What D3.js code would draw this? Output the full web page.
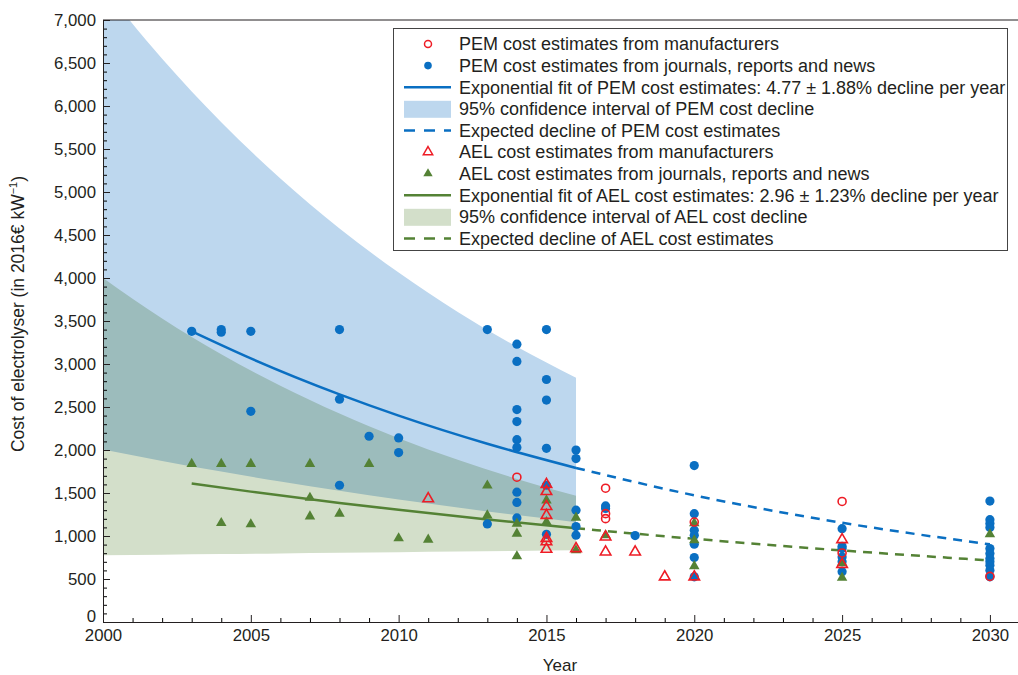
<!DOCTYPE html>
<html>
<head>
<meta charset="utf-8">
<script src="https://cdn.jsdelivr.net/npm/d3@7"></script>
<style>
  body { margin: 0; background: #fff; }
  text { font-family: "Liberation Sans", Arial, Helvetica, sans-serif; fill: #231f20; }
</style>
</head>
<body>
<svg id="chart" width="1018" height="675"></svg>
<script>
// cost estimates, [year, 2016 EUR per kW]
const pemManufacturers = [
  [2014, 1684], [2017, 1556], [2017, 1260], [2017, 1202], [2020, 1162],
  [2025, 1402], [2025, 803], [2030, 530]
];
const pemJournals = [
  [2003, 3380], [2004, 3400], [2004, 3370], [2005, 3380], [2005, 2450],
  [2008, 3400], [2008, 2590], [2008, 1590], [2009, 2160], [2010, 2140], [2010, 1970],
  [2013, 3400], [2013, 1140],
  [2014, 3230], [2014, 3030], [2014, 2470], [2014, 2330], [2014, 2120], [2014, 2030],
  [2014, 1510], [2014, 1390], [2014, 1210],
  [2015, 3400], [2015, 2820], [2015, 2580], [2015, 2020], [2015, 1590], [2015, 1020],
  [2016, 2000], [2016, 1900], [2016, 1300], [2016, 1110], [2016, 1010],
  [2017, 1350], [2017, 1320], [2018, 1005],
  [2020, 1819], [2020, 1260], [2020, 1066], [2020, 1008], [2020, 904], [2020, 750], [2020, 525],
  [2025, 1085], [2025, 880], [2025, 854], [2025, 757], [2025, 700], [2025, 583],
  [2030, 1406], [2030, 1190], [2030, 1144], [2030, 1100], [2030, 854], [2030, 796],
  [2030, 738], [2030, 700], [2030, 660], [2030, 603], [2030, 525]
];
const aelManufacturers = [
  [2011, 1433],
  [2015, 1599], [2015, 1518], [2015, 1344], [2015, 1240], [2015, 973], [2015, 934], [2015, 846],
  [2016, 854], [2017, 988], [2017, 815], [2018, 815], [2019, 525], [2020, 525],
  [2025, 958], [2025, 670]
];
const aelJournals = [
  [2003, 1839], [2004, 1839], [2004, 1151], [2005, 1839], [2005, 1136],
  [2007, 1839], [2007, 1445], [2007, 1228], [2008, 1260], [2009, 1839],
  [2010, 973], [2011, 958], [2013, 1587], [2013, 1240],
  [2014, 1144], [2014, 1028], [2014, 765], [2015, 1414], [2015, 1162],
  [2016, 1213], [2016, 834], [2017, 1008],
  [2020, 1150], [2020, 950], [2020, 649], [2025, 687], [2025, 515],
  [2030, 1020]
];

// fitted curves and expected declines
const pemFitYears = [2003, 2005, 2008, 2010, 2013, 2016];
const pemFitValues = [3380, 3065, 2647, 2400, 2073, 1791];
const pemExpectedYears = [2016, 2020, 2025, 2030];
const pemExpectedValues = [1791, 1473, 1154, 903];
const aelFitYears = [2003, 2005, 2008, 2010, 2013, 2016];
const aelFitValues = [1610, 1516, 1385, 1304, 1193, 1090];
const aelExpectedYears = [2016, 2020, 2025, 2030];
const aelExpectedValues = [1090, 967, 832, 716];

// 95% confidence intervals
const bandYears = [2000, 2002, 2004, 2006, 2008, 2010, 2012, 2014, 2016];
const pemUpper = [7380, 6549, 5812, 5158, 4577, 4063, 3606, 3200, 2840];
const pemLower = [2005, 1873, 1749, 1634, 1526, 1425, 1331, 1243, 1161];
const aelUpper = [4000, 3529, 3113, 2747, 2423, 2138, 1886, 1664, 1468];
const aelLower = [776, 783, 790, 797, 804, 812, 819, 826, 834];

const yTicks = d3.range(0, 7001, 500);
const xTicks = d3.range(2000, 2031, 5);

const legendItems = [
  "PEM cost estimates from manufacturers",
  "PEM cost estimates from journals, reports and news",
  "Exponential fit of PEM cost estimates: 4.77 \u00b1 1.88% decline per year",
  "95% confidence interval of PEM cost decline",
  "Expected decline of PEM cost estimates",
  "AEL cost estimates from manufacturers",
  "AEL cost estimates from journals, reports and news",
  "Exponential fit of AEL cost estimates: 2.96 \u00b1 1.23% decline per year",
  "95% confidence interval of AEL cost decline",
  "Expected decline of AEL cost estimates"
];

const blue = "#0a6fc2", green = "#548235", red = "#ee1c25";
const blueBand = "#bdd7ee", greenBand = "#d3dfca";

const svg = d3.select("#chart");
const x = d3.scaleLinear().domain([2000, 2030.95]).range([103, 1018]);
const y = d3.scaleLinear().domain([0, 7000]).range([622, 20]);

svg.append("clipPath").attr("id", "plotClip")
  .append("rect").attr("x", 103).attr("y", 20).attr("width", 915).attr("height", 602);

// bands
const bandArea = (up, lo) => d3.area()
  .x((d, i) => x(bandYears[i]))
  .y0((d, i) => y(lo[i]))
  .y1((d, i) => y(up[i]))
  .curve(d3.curveMonotoneX)(bandYears);

const bands = svg.append("g").attr("clip-path", "url(#plotClip)").style("isolation", "isolate");
bands.append("path").attr("d", bandArea(aelUpper, aelLower)).attr("fill", greenBand);
bands.append("path").attr("d", bandArea(pemUpper, pemLower)).attr("fill", blueBand)
  .style("mix-blend-mode", "multiply");

// axes
const yMinor = d3.range(0, 7001, 100).filter(v => v % 500 !== 0);
const xMinor = d3.range(2000, 2031, 1).filter(v => v % 5 !== 0);

svg.append("g").attr("transform", "translate(103,0)")
  .call(d3.axisLeft(y).tickValues(yMinor).tickSize(-4).tickFormat(""))
  .call(g => g.select(".domain").remove());
svg.append("g").attr("transform", "translate(0,622)")
  .call(d3.axisBottom(x).tickValues(xMinor).tickSize(-4).tickFormat(""))
  .call(g => g.select(".domain").remove());

const yAxis = svg.append("g").attr("transform", "translate(103,0)")
  .call(d3.axisLeft(y).tickValues(yTicks).tickSize(-7).tickSizeOuter(0).tickPadding(7).tickFormat(d3.format(",")));
const xAxis = svg.append("g").attr("transform", "translate(0,622)")
  .call(d3.axisBottom(x).tickValues(xTicks).tickSize(-7).tickSizeOuter(0).tickPadding(8).tickFormat(d3.format("d")));

[yAxis, xAxis].forEach(g => {
  g.selectAll("text").style("font-size", "16.8px").attr("fill", "#231f20");
  g.selectAll("line, path").attr("stroke", "#231f20");
});
xAxis.selectAll("text").attr("dy", "0.66em");
yAxis.selectAll(".tick").filter(d => d === 0).select("text").attr("dy", "-0.02em");

svg.append("line")
  .attr("x1", 103).attr("x2", 1018).attr("y1", y(7000)).attr("y2", y(7000))
  .attr("stroke", "#231f20");

svg.append("text").attr("x", 560).attr("y", 671).attr("text-anchor", "middle")
  .style("font-size", "17px").text("Year");

const yTitle = svg.append("text")
  .attr("transform", "translate(24,314) rotate(-90)")
  .attr("text-anchor", "middle").style("font-size", "17.5px");
yTitle.append("tspan").text("Cost of electrolyser (in 2016\u20ac kW");
yTitle.append("tspan").attr("dy", -7).style("font-size", "11px").text("\u22121");
yTitle.append("tspan").attr("dy", 7).text(")");

// fits
const line = d3.line().curve(d3.curveMonotoneX);
const fitPath = (yrs, vals) => line(yrs.map((t, i) => [x(t), y(vals[i])]));

svg.append("path").attr("d", fitPath(pemFitYears, pemFitValues))
  .attr("fill", "none").attr("stroke", blue).attr("stroke-width", 2.5);
svg.append("path").attr("d", fitPath(pemExpectedYears, pemExpectedValues))
  .attr("fill", "none").attr("stroke", blue).attr("stroke-width", 2.5).attr("stroke-dasharray", "9,7");
svg.append("path").attr("d", fitPath(aelFitYears, aelFitValues))
  .attr("fill", "none").attr("stroke", green).attr("stroke-width", 2.5);
svg.append("path").attr("d", fitPath(aelExpectedYears, aelExpectedValues))
  .attr("fill", "none").attr("stroke", green).attr("stroke-width", 2.5).attr("stroke-dasharray", "9,7");

// markers
const tri = d3.symbol(d3.symbolTriangle, 48)();

svg.append("g").selectAll("circle").data(pemJournals).join("circle")
  .attr("cx", d => x(d[0])).attr("cy", d => y(d[1])).attr("r", 4.6).attr("fill", blue);
svg.append("g").selectAll("path").data(aelJournals).join("path")
  .attr("d", tri).attr("transform", d => `translate(${x(d[0])},${y(d[1])})`).attr("fill", green);
svg.append("g").selectAll("path").data(aelManufacturers).join("path")
  .attr("d", tri).attr("transform", d => `translate(${x(d[0])},${y(d[1])})`)
  .attr("fill", "none").attr("stroke", red).attr("stroke-width", 1.6);
svg.append("g").selectAll("circle").data(pemManufacturers).join("circle")
  .attr("cx", d => x(d[0])).attr("cy", d => y(d[1])).attr("r", 4)
  .attr("fill", "none").attr("stroke", red).attr("stroke-width", 1.6);

// legend
const legend = svg.append("g");
legend.append("rect").attr("x", 393.5).attr("y", 28.5).attr("width", 614).attr("height", 222)
  .attr("fill", "#fff").attr("stroke", "#444").attr("stroke-width", 1);

const rowY = i => 44 + i * 21.6;
legendItems.forEach((label, i) => {
  const cy = rowY(i);
  const g = legend.append("g");
  const col = i < 5 ? blue : green;
  const kind = i % 5;
  if (kind === 0 && i === 0) {
    g.append("circle").attr("cx", 428).attr("cy", cy).attr("r", 3.5)
      .attr("fill", "none").attr("stroke", red).attr("stroke-width", 1.5);
  } else if (kind === 0) {
    g.append("path").attr("d", d3.symbol(d3.symbolTriangle, 38)())
      .attr("transform", `translate(428,${cy})`).attr("fill", "none").attr("stroke", red).attr("stroke-width", 1.5);
  } else if (kind === 1 && i === 1) {
    g.append("circle").attr("cx", 428).attr("cy", cy).attr("r", 3.8).attr("fill", blue);
  } else if (kind === 1) {
    g.append("path").attr("d", d3.symbol(d3.symbolTriangle, 38)())
      .attr("transform", `translate(428,${cy})`).attr("fill", green);
  } else if (kind === 2) {
    g.append("line").attr("x1", 404).attr("x2", 451).attr("y1", cy).attr("y2", cy)
      .attr("stroke", col).attr("stroke-width", 2.5);
  } else if (kind === 3) {
    g.append("rect").attr("x", 404).attr("y", cy - 8).attr("width", 47).attr("height", 17)
      .attr("fill", i < 5 ? blueBand : greenBand);
  } else {
    g.append("line").attr("x1", 404).attr("x2", 451).attr("y1", cy).attr("y2", cy)
      .attr("stroke", col).attr("stroke-width", 2.5).attr("stroke-dasharray", "11,9");
  }
  g.append("text").attr("x", 459).attr("y", cy).attr("dy", "0.35em")
    .style("font-size", "18px").text(label);
});
</script>
</body>
</html>
